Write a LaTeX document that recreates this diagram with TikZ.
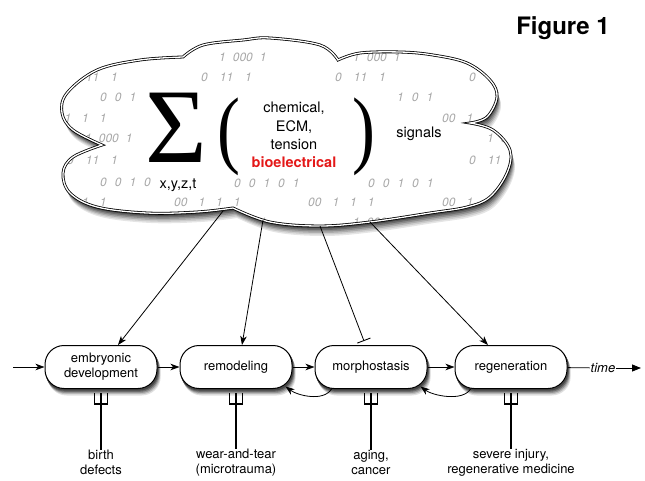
\documentclass[tikz,border=0pt]{standalone}
\usepackage{fontspec}
\usepackage{graphicx}
\setmainfont{TeX Gyre Heros}
\newfontfamily\symfont{Liberation Serif}
\usetikzlibrary{arrows.meta}
\pgfdeclarelayer{shade}
\pgfsetlayers{shade,main}
\definecolor{bioRed}{RGB}{228,24,24}
\definecolor{bitGray}{RGB}{168,168,168}
\def\cloudpath{plot[smooth,tension=0.6] coordinates {(102,145) (73,130) (62,113) (67,93) (97,70) (140,60) (183,57)}
 -- plot[smooth,tension=0.6] coordinates {(183,57) (203,45) (243,40) (270,38) (320,45) (338,60)}
 -- plot[smooth,tension=0.6] coordinates {(338,60) (360,53) (400,52) (433,55) (467,63) (490,80) (497,97) (487,117) (470,123)}
 -- plot[smooth,tension=0.6] coordinates {(470,123) (493,130) (510,150) (507,173) (490,197) (467,207) (430,213) (370,222) (320,226) (270,222) (233,208)}
 -- plot[smooth,tension=0.6] coordinates {(233,208) (197,212) (147,213) (97,207) (70,193) (63,173) (73,157) (102,145)} -- cycle}
\begin{document}
\begin{tikzpicture}[x=1pt,y=-1pt,
  stage/.style={draw=black, line width=1pt, fill=white, rounded corners=19pt,
    minimum width=112pt, minimum height=43pt, align=center, inner sep=1pt,
    font=\fontsize{13}{15}\selectfont},
  conn/.style={line width=0.8pt, -{Stealth[length=9pt,width=6.5pt,inset=2.5pt]}},
  bits/.style={font=\fontsize{12}{12}\selectfont\itshape, text=bitGray, anchor=west, inner sep=0pt},
  cloudtext/.style={font=\fontsize{14.5}{18.3}\selectfont, fill=white, align=center},
  lowlabel/.style={font=\fontsize{13}{15}\selectfont, align=center, inner sep=0pt}]
\useasboundingbox (0,0) rectangle (645,481);

% title
\node[font=\fontsize{24}{24}\selectfont\bfseries] (fig) at (563,28) {Figure 1};

% cloud shadow (opaque steps, far and light first) and body
\foreach \s/\g in {10/10,8.5/20,7/32,5.5/45,4/58,2.5/70}
  \fill[black!\g, xshift=0.4*\s pt, yshift=-\s pt] \cloudpath;
\fill[white] \cloudpath;
\begin{scope}
  \clip \cloudpath;
  \foreach \yy in {57,222}
    \foreach \xx [count=\i] in {219,353}
      \node[bits] (bA\yy-\i) at (\xx,\yy) {1\hspace{7pt}000\hspace{7pt}1};
  \foreach \xx [count=\i] in {85,487}
    \node[bits] (bE-\i) at (\xx,138) {1\hspace{7pt}000\hspace{7pt}1};
  \foreach \xx [count=\i] in {67,201,335,469}
    \node[bits] (bB-\i) at (\xx,77) {0\hspace{12pt}11\hspace{12pt}1};
  \foreach \xx [count=\i] in {67,469}
    \node[bits] (bF-\i) at (\xx,160) {0\hspace{12pt}11\hspace{12pt}1};
  \node[bits] (bC1) at (100,97) {0\hspace{8pt}0\hspace{8pt}1};
  \node[bits] (bC2) at (397,97) {1\hspace{8pt}0\hspace{8pt}1};
  \node[bits] (bG1) at (100,182) {0\hspace{8pt}0\hspace{8pt}1\hspace{8pt}0};
  \foreach \xx [count=\i] in {234,368}
    \node[bits] (bG\i) at (\xx,183) {0\hspace{8pt}0\hspace{8pt}1\hspace{8pt}0\hspace{8pt}1};
  \foreach \xx [count=\i] in {40,442}
    \node[bits] (bD-\i) at (\xx,118) {00\hspace{11pt}1\hspace{11pt}1\hspace{11pt}1};
  \foreach \xx [count=\i] in {40,174,308,442}
    \node[bits] (bH-\i) at (\xx,202) {00\hspace{11pt}1\hspace{11pt}1\hspace{11pt}1};
\end{scope}

% formula in the cloud
\node[font=\symfont\fontsize{106}{106}\selectfont, anchor=base, fill=white, inner sep=1pt] (sigma) at (176,163) {Σ};
\node[font=\symfont\fontsize{86}{86}\selectfont, anchor=base, fill=white, inner sep=1pt] (lpar) at (229,158) {\scalebox{0.8}[1]{(}};
\node[font=\symfont\fontsize{86}{86}\selectfont, anchor=base, fill=white, inner sep=1pt] (rpar) at (364,158) {\scalebox{0.8}[1]{)}};
\node[cloudtext, inner sep=2pt] (kinds) at (294,135) {chemical,\\ECM,\\tension\\\textcolor{bioRed}{\bfseries bioelectrical}};
\node[cloudtext, inner sep=1pt] (signals) at (419,134) {signals};
\node[cloudtext, inner sep=1pt] (xyzt) at (178,185) {x,y,z,t};

% cloud outline
\draw[line width=0.8pt, double=white, double distance=1.3pt] \cloudpath;

% stages
\node[stage] (b1) at (101,367) {embryonic\\development};
\node[stage] (b2) at (236,367) {remodeling};
\node[stage] (b3) at (371,367) {morphostasis};
\node[stage] (b4) at (511,367) {regeneration};
\node[font=\fontsize{13}{15}\selectfont\itshape, inner sep=1pt] (time) at (603,368) {time};

% soft shadows of the stages, on the layer below
\begin{pgfonlayer}{shade}
\foreach \n in {1,2,3,4}
  \foreach \dx/\dy/\g in {3.2/6.5/12,2.6/5.2/26,2/4/42,1.4/2.8/58,0.8/1.6/72}
    \fill[black!\g, rounded corners=19pt]
      ([xshift=\dx pt,yshift=-\dy pt]b\n.south west) rectangle ([xshift=\dx pt,yshift=-\dy pt]b\n.north east);
\end{pgfonlayer}

% time line
\coordinate (start) at (13,367);
\coordinate (tend) at (641,368);
\draw[conn] (start) -- (b1);
\draw[conn] (b1) -- (b2);
\draw[conn] (b2) -- (b3);
\draw[conn] (b3) -- (b4);
\draw[line width=0.8pt] (b4) -- (time);
\draw[line width=0.8pt, -{Triangle[length=9pt,width=7pt]}] (time) -- (tend);

% feedback arrows
\draw[conn] ([xshift=17pt]b3.south west) .. controls +(-8,13) and +(12,9) .. ([xshift=-7pt,yshift=2.5pt]b2.south east);
\draw[conn] ([xshift=16pt]b4.south west) .. controls +(-8,13) and +(12,9) .. ([xshift=-7pt,yshift=2.5pt]b3.south east);

% signals from the cloud
\coordinate (c1) at (223,211);
\coordinate (c2) at (263,220);
\coordinate (c3) at (320,226);
\coordinate (c4) at (370,222);
\draw[conn] (c1) -- ([xshift=17pt]b1.north);
\draw[conn] (c2) -- ([xshift=6pt]b2.north);
\draw[line width=0.8pt, -{Bar[width=14pt,line width=0.9pt]}] (c3) -- ([xshift=-7pt,yshift=4pt]b3.north);
\draw[conn] (c4) -- ([xshift=-23pt]b4.north);

% perturbations below
\node[lowlabel] (l1) at (101,462.5) {birth\\defects};
\node[lowlabel] (l2) at (236,462.5) {wear-and-tear\\(microtrauma)};
\node[lowlabel] (l3) at (371,462.5) {aging,\\cancer};
\node[lowlabel] (l4) at (511,462.5) {severe injury,\\regenerative medicine};
\foreach \n in {1,2,3,4} {
  \coordinate (f\n) at ([yshift=-4pt]b\n.south);
  \draw[line width=2pt] (l\n.north) -- (f\n);
  \draw[line width=1.3pt] (f\n) ++(-6.5,0) -- ++(0,11) -- ++(13,0) -- ++(0,-11);
}
\end{tikzpicture}
\end{document}
